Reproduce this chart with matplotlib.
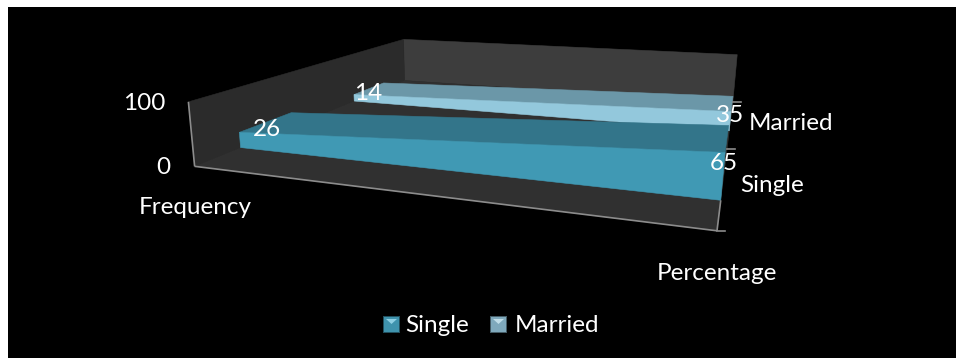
import numpy as np
import matplotlib
matplotlib.use("Agg")
import matplotlib.pyplot as plt
from matplotlib.patches import Polygon, Rectangle

categories = ["Frequency", "Percentage"]
series_names = ["Single", "Married"]
single_values = [26, 65]
married_values = [14, 35]
value_ticks = [0, 100]

# screen positions of the box corners, (category, value, depth) -> (px, py)
BOX_WORLD = np.array([
    (0, 0, 0), (1, 0, 0), (1, 0, 1), (0, 0, 1),
    (0, 100, 0), (0, 100, 1), (1, 100, 1),
], dtype=float)
BOX_SCREEN = np.array([
    (195, 166), (717, 231), (733, 102), (404, 81),
    (188, 102), (404, 39), (737, 55),
], dtype=float)

SINGLE_DEPTH = (0.149, 0.351)
MARRIED_DEPTH = (0.665, 0.851)


def fit_camera(world, screen):
    """Least squares 3x4 projection from box corners (DLT)."""
    rows = []
    rhs = []
    for (x, y, z), (u, v) in zip(world, screen):
        p = [x, y, z, 1]
        rows.append(p + [0, 0, 0, 0] + [-u * x, -u * y, -u * z])
        rhs.append(u)
        rows.append([0, 0, 0, 0] + p + [-v * x, -v * y, -v * z])
        rhs.append(v)
    sol = np.linalg.lstsq(np.array(rows), np.array(rhs), rcond=None)[0]
    return np.append(sol, 1.0).reshape(3, 4)


CAM = fit_camera(BOX_WORLD, BOX_SCREEN)


def project(x, y, z):
    u, v, w = CAM @ np.array([x, y, z, 1.0])
    return u / w, v / w


def quad(ax, pts, color, zorder=2):
    ax.add_patch(Polygon([project(*p) for p in pts], closed=True, fc=color,
                         ec=color, lw=0.4, zorder=zorder))


def draw_area(ax, values, depth, front_color, top_color, zorder):
    z0, z1 = depth
    v0, v1 = values
    quad(ax, [(0, v0, z0), (1, v1, z0), (1, v1, z1), (0, v0, z1)], top_color, zorder)
    quad(ax, [(0, 0, z0), (1, 0, z0), (1, v1, z0), (0, v0, z0)], front_color, zorder)


def edge(ax, a, b, color="#8c8c8c", lw=1.2):
    pa, pb = project(*a), project(*b)
    ax.plot([pa[0], pb[0]], [pa[1], pb[1]], color=color, lw=lw, zorder=5,
            solid_capstyle="butt")


plt.rcParams["font.family"] = ["Lato", "DejaVu Sans"]
fig = plt.figure(figsize=(9.56, 3.58), dpi=100, facecolor="white")
ax = fig.add_axes([0, 0, 1, 1])
ax.set_xlim(0, 956)
ax.set_ylim(358, 0)
ax.axis("off")

# chart background
ax.add_patch(Rectangle((8, 7), 948, 351, fc="black", ec="none", zorder=0))

# walls and floor
quad(ax, [(0, 0, 1), (1, 0, 1), (1, 100, 1), (0, 100, 1)], "#3d3d3d", 1)
quad(ax, [(0, 0, 0), (0, 0, 1), (0, 100, 1), (0, 100, 0)], "#2b2b2b", 1)
quad(ax, [(0, 0, 0), (1, 0, 0), (1, 0, 1), (0, 0, 1)], "#303030", 1)

# series, back to front
draw_area(ax, married_values, MARRIED_DEPTH, "#93c8dc", "#6b97a8", 2)
draw_area(ax, single_values, SINGLE_DEPTH, "#4099b4", "#33758a", 3)

# axis lines and depth ticks
edge(ax, (0, 0, 0), (0, 100, 0))
edge(ax, (0, 0, 0), (1, 0, 0))
edge(ax, (1, 0, 0), (1, 0, SINGLE_DEPTH[0]))
for z in (0, 0.5, 1):
    px, py = project(1, 0, z)
    ax.plot([px, px + 8], [py, py], color="#8c8c8c", lw=1.2, zorder=5)

txt = dict(color="white", fontsize=17.5, ha="center", va="center", zorder=6)

# value axis labels
for val, (px, py) in zip(value_ticks, [(163, 167), (144, 103)]):
    ax.text(px, py, str(val), **txt)

ax.text(195, 208, categories[0], **txt)
ax.text(717, 273, categories[1], **txt)
ax.text(772, 185, series_names[0], **txt)
ax.text(791, 123, series_names[1], **txt)

# data labels
ax.text(267, 130, str(single_values[0]), **txt)
ax.text(724, 163, str(single_values[1]), **txt)
ax.text(368, 93, str(married_values[0]), **txt)
ax.text(730, 115, str(married_values[1]), **txt)

# legend, bevelled swatches
for x0, name, color, light, tx in [(383, series_names[0], "#3f93ad", "#8fd0e4", 437),
                                   (490, series_names[1], "#7fa9bc", "#c0dde8", 557)]:
    ax.add_patch(Rectangle((x0, 316), 17, 17, fc=color, ec="none", alpha=0.55, zorder=4))
    ax.add_patch(Rectangle((x0 + 1, 317), 15, 15, fc=color, ec="none", zorder=4))
    ax.add_patch(Polygon([(x0 + 3, 319), (x0 + 14, 319), (x0 + 8.5, 324)], fc=light,
                         ec="none", zorder=5))
    ax.text(tx, 325, name, **txt)

fig.savefig("out.png", dpi=100, facecolor=fig.get_facecolor())
plt.close(fig)
